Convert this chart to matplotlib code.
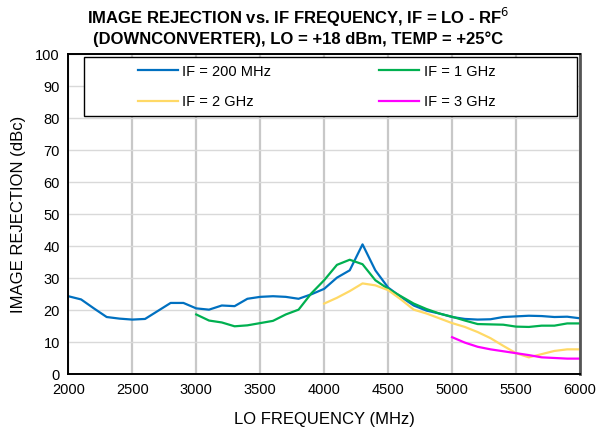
import numpy as np
import matplotlib
matplotlib.use("Agg")
import matplotlib.pyplot as plt
from matplotlib.patches import Rectangle

plt.rcParams['font.family'] = ['Liberation Sans', 'DejaVu Sans']

# LO frequency (MHz)
lo_200 = list(range(2000, 6001, 100))
lo_1g = list(range(3000, 6001, 100))
lo_2g = list(range(4000, 6001, 100))
lo_3g = list(range(5000, 6001, 100))

# image rejection (dBc)
ir_200 = [24.4, 23.4, 20.6, 17.9, 17.4, 17.1, 17.3, 19.8, 22.3, 22.3,
          20.6, 20.2, 21.5, 21.3, 23.6, 24.2, 24.4, 24.2, 23.6, 25.0,
          26.7, 30.2, 32.5, 40.6, 32.5, 27.1, 24.2, 21.5, 19.9, 19.0,
          17.9, 17.3, 17.1, 17.2, 17.9, 18.1, 18.3, 18.2, 17.9, 18.0, 17.5]
ir_1g = [18.7, 16.8, 16.2, 15.0, 15.3, 16.0, 16.7, 18.7, 20.2, 25.3,
         29.4, 34.2, 35.8, 34.4, 29.4, 26.7, 24.4, 22.1, 20.4, 19.0,
         18.0, 16.8, 15.7, 15.6, 15.5, 14.9, 14.8, 15.2, 15.2, 15.9, 15.9]
ir_2g = [22.1, 23.9, 26.0, 28.4, 27.8, 26.3, 23.4, 20.2, 19.0, 17.5,
         16.0, 14.8, 13.2, 11.3, 8.9, 6.6, 5.3, 6.3, 7.3, 7.8, 7.8]
ir_3g = [11.6, 9.9, 8.6, 7.8, 7.2, 6.6, 6.0, 5.3, 5.1, 4.9, 4.9]

fig = plt.figure(figsize=(5.96, 4.34), dpi=100)
ax = fig.add_axes([68.3 / 596, 1 - 374.3 / 434, 511.7 / 596, 320 / 434])

l200, = ax.plot(lo_200, ir_200, color='#0070C0', lw=1.6, label='IF = 200 MHz')
l1g, = ax.plot(lo_1g, ir_1g, color='#00B050', lw=1.6, label='IF = 1 GHz')
l2g, = ax.plot(lo_2g, ir_2g, color='#FFD966', lw=1.6, label='IF = 2 GHz')
l3g, = ax.plot(lo_3g, ir_3g, color='#FF00FF', lw=1.6, label='IF = 3 GHz')

ax.set_xlim(2000, 6000)
ax.set_ylim(0, 100)
ax.set_xticks(np.arange(2000, 6001, 500))
ax.set_yticks(np.arange(0, 101, 10))
ax.tick_params(length=0, labelsize=10.5, pad=6)
ax.xaxis.grid(True, color='#c8c8c8', lw=1.6)
ax.yaxis.grid(True, color='#d9d9d9', lw=1.0)
ax.set_axisbelow(True)
for s in ax.spines.values():
    s.set_color('black')
    s.set_linewidth(1.4)
ax.spines['right'].set_color('#555555')
ax.spines['right'].set_linewidth(2)

ax.set_xlabel('LO FREQUENCY (MHz)', fontsize=12, labelpad=11)
ax.set_ylabel('IMAGE REJECTION (dBc)', fontsize=12, labelpad=7)

fig.text(0.5, 1 - 17 / 434, 'IMAGE REJECTION vs. IF FREQUENCY, IF = LO - RF$^{6}$',
         ha='center', va='center', fontsize=12, fontweight='bold')
fig.text(0.5, 1 - 39 / 434, '(DOWNCONVERTER), LO = +18 dBm, TEMP = +25°C',
         ha='center', va='center', fontsize=12, fontweight='bold')

# legend box
ax.add_patch(Rectangle((0.031, 0.807), 0.963, 0.186, transform=ax.transAxes,
                       facecolor='white', edgecolor='black', lw=1.0, zorder=4))
leg = ax.legend([l200, l2g, l1g, l3g],
                ['IF = 200 MHz', 'IF = 2 GHz', 'IF = 1 GHz', 'IF = 3 GHz'],
                loc='center left', bbox_to_anchor=(0.1356, 0.899),
                ncol=2, fontsize=10.5, frameon=False,
                handlelength=2.75, handletextpad=0.3, borderaxespad=0,
                borderpad=0, labelspacing=1.1, columnspacing=7.4)
leg.set_zorder(5)

fig.savefig('out.png', dpi=100)
